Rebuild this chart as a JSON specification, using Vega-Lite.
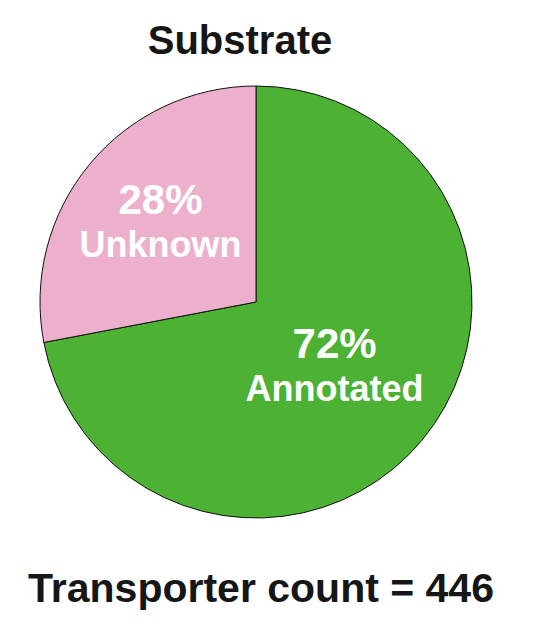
{
  "$schema": "https://vega.github.io/schema/vega-lite/v6.json",
  "padding": {"top": 22, "left": 0, "right": 0, "bottom": 0},
  "spacing": 0,
  "background": "white",
  "config": {"view": {"stroke": null}, "font": "Liberation Sans"},
  "vconcat": [
    {
      "width": 512,
      "height": 432,
      "title": {"text": "Substrate", "fontSize": 40, "fontWeight": "bold", "font": "Liberation Sans", "color": "#161616", "offset": 22, "dx": -16},
      "data": {"values": [
        {"category": "Annotated", "value": 72, "pct": "72%"},
        {"category": "Unknown", "value": 28, "pct": "28%"}
      ]},
      "encoding": {
        "theta": {"field": "value", "type": "quantitative", "stack": true},
        "order": {"field": "value", "sort": "descending"}
      },
      "layer": [
        {
          "mark": {"type": "arc", "outerRadius": 216, "stroke": "#111111", "strokeWidth": 1},
          "encoding": {
            "color": {"field": "category", "type": "nominal", "scale": {"domain": ["Annotated", "Unknown"], "range": ["#4DB133", "#ECB0CC"]}, "legend": null}
          }
        },
        {
          "mark": {"type": "text", "fontSize": 42, "fontWeight": "bold", "color": "white", "dy": -22, "baseline": "middle"},
          "encoding": {
            "text": {"field": "pct"},
            "radius": {"field": "value", "type": "quantitative", "scale": {"type": "linear", "zero": false, "domain": [28, 72], "range": [124, 102]}}
          }
        },
        {
          "mark": {"type": "text", "fontSize": 36, "fontWeight": "bold", "color": "white", "dy": 23, "baseline": "middle"},
          "encoding": {
            "text": {"field": "category"},
            "radius": {"field": "value", "type": "quantitative", "scale": {"type": "linear", "zero": false, "domain": [28, 72], "range": [124, 102]}}
          }
        }
      ]
    },
    {
      "width": 512,
      "height": 100,
      "data": {"values": [{"caption": "Transporter count = 446"}]},
      "mark": {"type": "text", "fontSize": 41, "fontWeight": "bold", "color": "#161616", "dx": 5, "dy": 20, "baseline": "middle"},
      "encoding": {"text": {"field": "caption"}}
    }
  ]
}
